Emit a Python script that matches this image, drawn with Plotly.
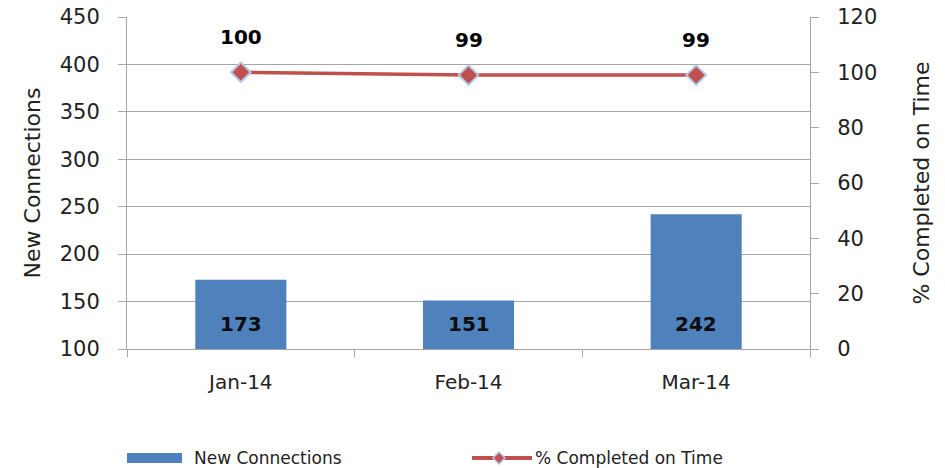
import plotly.graph_objects as go

months = ["Jan-14", "Feb-14", "Mar-14"]
new_connections = [173, 151, 242]
pct_on_time = [100, 99, 99]
legend_labels = ["New Connections", "% Completed on Time"]

FONT = "DejaVu Sans"
BLUE = "#4f81bd"
RED = "#c0504d"
GRID = "#a6a6a6"

W, H = 945, 468
PL, PR, PT, PB = 127, 810, 17, 349  # plot area in screen pixels

fig = go.Figure()
fig.add_trace(go.Bar(
    x=months, y=new_connections, name=legend_labels[0],
    marker=dict(color=BLUE, line=dict(width=0)),
    width=0.40, yaxis="y", showlegend=False,
))
fig.add_trace(go.Scatter(
    x=months, y=pct_on_time, name=legend_labels[1],
    mode="lines+markers",
    line=dict(color=RED, width=3.5),
    marker=dict(symbol="diamond", size=15, color=RED,
                line=dict(color="#b4c6e7", width=2)),
    yaxis="y2", showlegend=False,
))
for m, v in zip(months, pct_on_time):
    fig.add_annotation(x=m, y=v, yref="y2", text=f"<b>{v}</b>", showarrow=False,
                       yshift=35, font=dict(family=FONT, size=20, color="#000"))
for m, v in zip(months, new_connections):
    fig.add_annotation(x=m, y=100, yref="y", text=f"<b>{v}</b>", showarrow=False,
                       yshift=25, font=dict(family=FONT, size=20, color="#0d0d0d"))


def px_x(p):
    return (p - PL) / (PR - PL)


def px_y(p):
    return (PB - p) / (PB - PT)


# legend drawn by hand below the plot
fig.add_shape(type="rect", xref="paper", yref="paper",
              x0=px_x(127), x1=px_x(182), y0=px_y(463), y1=px_y(453),
              fillcolor=BLUE, line=dict(width=0))
fig.add_annotation(xref="paper", yref="paper", x=px_x(192), y=px_y(458),
                   xanchor="left", yanchor="middle", showarrow=False,
                   text=legend_labels[0], font=dict(family=FONT, size=17, color="#222"))
fig.add_shape(type="line", xref="paper", yref="paper",
              x0=px_x(472), x1=px_x(532), y0=px_y(458), y1=px_y(458),
              line=dict(color=RED, width=4))
cx, cy = 499, 458
fig.add_shape(type="path", xref="paper", yref="paper",
              path=(f"M {px_x(cx-6)} {px_y(cy)} L {px_x(cx)} {px_y(cy-6)} "
                    f"L {px_x(cx+6)} {px_y(cy)} L {px_x(cx)} {px_y(cy+6)} Z"),
              fillcolor=RED, line=dict(color="#b4c6e7", width=1.5))
fig.add_annotation(xref="paper", yref="paper", x=px_x(533), y=px_y(458),
                   xanchor="left", yanchor="middle", showarrow=False,
                   text=legend_labels[1], font=dict(family=FONT, size=17, color="#222"))

fig.update_layout(
    width=W, height=H,
    margin=dict(l=PL, r=W - PR, t=PT, b=H - PB),
    paper_bgcolor="white", plot_bgcolor="white",
    font=dict(family=FONT, size=20, color="#222"),
    showlegend=False,
    hovermode=False,
    xaxis=dict(showline=True, linecolor=GRID, linewidth=1, ticks="outside",
               tickson="boundaries", ticklen=7, tickcolor=GRID,
               ticklabelstandoff=15,
               tickfont=dict(size=20), automargin=False),
    yaxis=dict(range=[100, 450], dtick=50, showgrid=True, gridcolor=GRID,
               gridwidth=1, showline=True, linecolor=GRID, ticks="outside",
               ticklen=8, tickcolor=GRID, zeroline=False, automargin=False,
               ticklabelstandoff=14,
               title=dict(text="New Connections", font=dict(size=22), standoff=13),
               tickfont=dict(size=21)),
    yaxis2=dict(range=[0, 120], dtick=20, overlaying="y", side="right",
                showgrid=False, showline=True, linecolor=GRID, ticks="outside",
                ticklen=8, tickcolor=GRID, zeroline=False, automargin=False,
                ticklabelstandoff=14,
                title=dict(text="% Completed on Time", font=dict(size=22), standoff=37),
                tickfont=dict(size=21)),
)
# remove the browser's default 8px body margin so the figure sits at the page origin
fig.write_html("out.html", config={"displayModeBar": False},
               post_script="document.body.style.margin='0';")
